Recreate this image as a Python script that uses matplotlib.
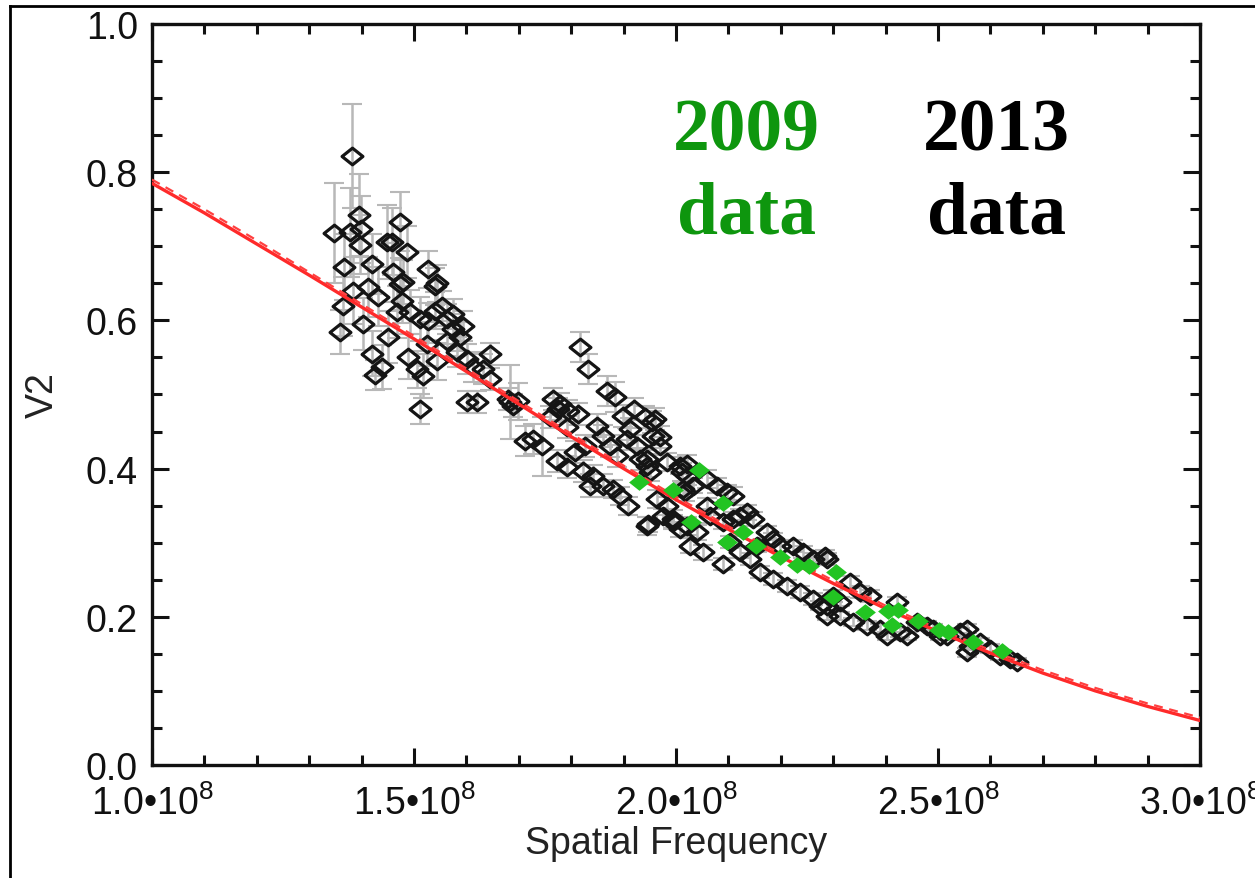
import numpy as np
import matplotlib
matplotlib.use('Agg')
import matplotlib.pyplot as plt
from matplotlib.path import Path
from matplotlib.lines import Line2D
from matplotlib.ticker import MultipleLocator, FuncFormatter

plt.rcParams['font.family'] = ['Liberation Sans', 'DejaVu Sans']
plt.rcParams['mathtext.fontset'] = 'custom'
plt.rcParams['mathtext.rm'] = 'Liberation Sans'
plt.rcParams['mathtext.it'] = 'Liberation Sans'

# 2013 data, spatial frequency in units of 1e8
freq_2013 = [1.382, 1.347, 1.395, 1.378, 1.399, 1.397, 1.366, 1.420, 1.448, 1.458,
             1.473, 1.487, 1.460, 1.479, 1.527, 1.544, 1.359, 1.403, 1.420, 1.439,
             1.426, 1.450, 1.384, 1.412, 1.431, 1.365, 1.467, 1.477, 1.492, 1.473,
             1.540, 1.489, 1.506, 1.517, 1.511, 1.525, 1.544, 1.511, 1.527, 1.540,
             1.553, 1.563, 1.574, 1.588, 1.574, 1.594, 1.563, 1.582, 1.601, 1.613,
             1.632, 1.645, 1.645, 1.601, 1.620, 1.679, 1.689, 1.683, 1.698, 1.817,
             1.832, 1.868, 1.884, 1.712, 1.727, 1.744, 1.765, 1.779, 1.760, 1.775,
             1.794, 1.813, 1.792, 1.773, 1.792, 1.807, 1.826, 1.849, 1.861, 1.823,
             1.842, 1.861, 1.836, 1.874, 1.887, 1.899, 1.912, 1.906, 1.926, 1.931,
             1.945, 1.954, 1.969, 1.880, 1.893, 1.908, 1.945, 1.964, 1.983, 2.008,
             2.021, 1.994, 2.021, 2.017, 1.956, 1.969, 1.945, 1.950, 1.983, 2.011,
             2.021, 2.013, 2.032, 2.059, 2.078, 2.097, 2.109, 1.947, 1.975, 1.994,
             2.008, 2.040, 2.052, 2.027, 2.059, 2.065, 2.090, 2.109, 2.122, 2.135,
             2.147, 2.174, 2.185, 2.198, 2.223, 2.242, 2.261, 2.284, 2.122, 2.141,
             2.160, 2.185, 2.212, 2.237, 2.261, 2.288, 2.300, 2.103, 2.155, 2.090,
             2.288, 2.332, 2.351, 2.370, 2.288, 2.313, 2.338, 2.364, 2.389, 2.403,
             2.422, 2.427, 2.441, 2.460, 2.479, 2.490, 2.504, 2.517, 2.542, 2.555,
             2.561, 2.580, 2.555, 2.599, 2.618, 2.637, 2.651, 2.275, 2.313, 1.920,
             1.940, 1.960]
v2_2013 = [0.822, 0.718, 0.742, 0.719, 0.723, 0.702, 0.672, 0.676, 0.706, 0.706,
           0.733, 0.692, 0.665, 0.652, 0.669, 0.650, 0.584, 0.595, 0.555, 0.537,
           0.526, 0.578, 0.640, 0.645, 0.632, 0.619, 0.611, 0.626, 0.611, 0.649,
           0.646, 0.551, 0.534, 0.525, 0.480, 0.568, 0.545, 0.602, 0.599, 0.613,
           0.619, 0.602, 0.588, 0.578, 0.609, 0.592, 0.572, 0.557, 0.548, 0.537,
           0.534, 0.555, 0.521, 0.490, 0.490, 0.494, 0.485, 0.490, 0.491, 0.564,
           0.534, 0.505, 0.497, 0.437, 0.440, 0.430, 0.494, 0.487, 0.470, 0.480,
           0.478, 0.474, 0.456, 0.410, 0.402, 0.422, 0.430, 0.458, 0.444, 0.397,
           0.390, 0.377, 0.377, 0.430, 0.417, 0.471, 0.453, 0.440, 0.430, 0.413,
           0.404, 0.463, 0.443, 0.372, 0.363, 0.350, 0.323, 0.359, 0.350, 0.404,
           0.390, 0.332, 0.323, 0.368, 0.444, 0.430, 0.413, 0.395, 0.409, 0.395,
           0.406, 0.372, 0.377, 0.386, 0.377, 0.368, 0.363, 0.325, 0.336, 0.328,
           0.318, 0.314, 0.287, 0.296, 0.350, 0.336, 0.328, 0.332, 0.336, 0.341,
           0.332, 0.314, 0.305, 0.296, 0.296, 0.287, 0.278, 0.282, 0.287, 0.278,
           0.260, 0.251, 0.242, 0.233, 0.224, 0.215, 0.228, 0.301, 0.296, 0.271,
           0.278, 0.247, 0.233, 0.228, 0.201, 0.201, 0.193, 0.188, 0.184, 0.174,
           0.220, 0.179, 0.174, 0.193, 0.188, 0.184, 0.174, 0.174, 0.179, 0.184,
           0.161, 0.166, 0.152, 0.157, 0.147, 0.143, 0.139, 0.215, 0.220, 0.480,
           0.470, 0.467]
err_2013 = [0.070, 0.067, 0.055, 0.060, 0.045, 0.040, 0.045, 0.040, 0.050, 0.045,
            0.040, 0.035, 0.040, 0.030, 0.025, 0.025, 0.030, 0.035, 0.030, 0.030,
            0.020, 0.035, 0.045, 0.040, 0.040, 0.040, 0.035, 0.030, 0.030, 0.035,
            0.025, 0.030, 0.025, 0.030, 0.020, 0.030, 0.025, 0.030, 0.025, 0.025,
            0.020, 0.020, 0.020, 0.020, 0.020, 0.020, 0.020, 0.020, 0.020, 0.020,
            0.020, 0.015, 0.015, 0.015, 0.015, 0.015, 0.015, 0.050, 0.025, 0.020,
            0.020, 0.020, 0.020, 0.020, 0.020, 0.040, 0.015, 0.015, 0.015, 0.015,
            0.015, 0.015, 0.015, 0.015, 0.015, 0.015, 0.015, 0.015, 0.015, 0.015,
            0.015, 0.015, 0.015, 0.015, 0.015, 0.015, 0.015, 0.015, 0.015, 0.015,
            0.015, 0.015, 0.015, 0.012, 0.012, 0.012, 0.012, 0.012, 0.012, 0.012,
            0.012, 0.012, 0.012, 0.012, 0.012, 0.012, 0.012, 0.012, 0.012, 0.012,
            0.012, 0.010, 0.010, 0.012, 0.010, 0.010, 0.012, 0.010, 0.010, 0.010,
            0.010, 0.010, 0.010, 0.010, 0.010, 0.010, 0.010, 0.010, 0.010, 0.010,
            0.010, 0.008, 0.008, 0.008, 0.008, 0.008, 0.008, 0.008, 0.008, 0.008,
            0.008, 0.008, 0.008, 0.008, 0.008, 0.008, 0.008, 0.008, 0.008, 0.008,
            0.008, 0.008, 0.008, 0.008, 0.006, 0.006, 0.006, 0.006, 0.006, 0.006,
            0.006, 0.006, 0.006, 0.006, 0.006, 0.006, 0.006, 0.006, 0.006, 0.006,
            0.006, 0.006, 0.006, 0.006, 0.006, 0.006, 0.006, 0.006, 0.006, 0.015,
            0.015, 0.015]

# 2009 data
freq_2009 = [2.044, 1.994, 1.929, 2.090, 2.029, 2.128, 2.097, 2.153, 2.198, 2.231,
             2.254, 2.305, 2.300, 2.361, 2.405, 2.424, 2.412, 2.462, 2.502, 2.519,
             2.567, 2.622]
v2_2009 = [0.398, 0.371, 0.382, 0.354, 0.328, 0.314, 0.301, 0.296, 0.281, 0.270,
           0.269, 0.260, 0.227, 0.206, 0.208, 0.209, 0.189, 0.194, 0.182, 0.179,
           0.166, 0.154]

# model curve
freq_model = [1.0, 1.1, 1.2, 1.3, 1.4, 1.5, 1.6, 1.7, 1.8, 1.9, 2.0,
              2.1, 2.2, 2.3, 2.4, 2.5, 2.6, 2.7, 2.8, 2.9, 3.0]
v2_model = [0.785, 0.745, 0.703, 0.661, 0.618, 0.575, 0.531, 0.487, 0.443, 0.400, 0.358,
            0.318, 0.281, 0.245, 0.211, 0.180, 0.151, 0.124, 0.100, 0.079, 0.060]
v2_model_alt = [0.790, 0.750, 0.708, 0.665, 0.622, 0.579, 0.535, 0.491, 0.447, 0.404, 0.362,
                0.322, 0.285, 0.249, 0.215, 0.184, 0.155, 0.128, 0.104, 0.083, 0.064]

f13 = np.array(freq_2013) * 1e8
f09 = np.array(freq_2009) * 1e8
fm = np.array(freq_model) * 1e8

# squat diamond marker
diamond = Path([(-1, 0), (0, 0.8), (1, 0), (0, -0.8), (-1, 0)],
               [Path.MOVETO, Path.LINETO, Path.LINETO, Path.LINETO, Path.CLOSEPOLY])

fig = plt.figure(figsize=(12.55, 8.79), dpi=100, facecolor='white')
ax = fig.add_axes([0.1211, 0.1286, 0.8351, 0.843])

ax.errorbar(f13, v2_2013, yerr=err_2013, fmt='none', ecolor='#b8b8b8',
            elinewidth=1.8, capsize=7, capthick=1.5, zorder=1)
ax.plot(f13, v2_2013, linestyle='none', marker=diamond, ms=15,
        mfc='none', mec='#151515', mew=2.3, zorder=2)
ax.plot(fm, v2_model, color='#ff2a2a', lw=2.4, zorder=3)
ax.plot(fm, v2_model_alt, color='#ff4040', lw=1.6, ls=(0, (4, 3)), zorder=3)
ax.plot(f09, v2_2009, linestyle='none', marker=diamond, ms=15,
        mfc='#22c422', mec='none', zorder=4)

ax.set_xlim(1e8, 3e8)
ax.set_ylim(0, 1.0)
ax.xaxis.set_major_locator(MultipleLocator(0.5e8))
ax.xaxis.set_minor_locator(MultipleLocator(0.1e8))
ax.yaxis.set_major_locator(MultipleLocator(0.2))
ax.yaxis.set_minor_locator(MultipleLocator(0.05))
ax.xaxis.set_major_formatter(FuncFormatter(lambda v, p: '%.1f\u202210$^{8}$' % (v / 1e8)))
ax.yaxis.set_major_formatter(FuncFormatter(lambda v, p: '%.1f' % v))

ax.tick_params(which='both', direction='in', top=True, right=True, width=2.2,
               colors='#111111', labelsize=27)
ax.tick_params(which='major', length=12)
ax.tick_params(which='minor', length=7)
ax.tick_params(axis='x', pad=14)
ax.tick_params(axis='y', pad=10)
for s in ax.spines.values():
    s.set_linewidth(2.4)
    s.set_color('#111111')

ax.set_xlabel('Spatial Frequency', fontsize=27, color='#222222', labelpad=2)
ax.set_ylabel('V2', fontsize=27, color='#222222', labelpad=18)

fig.canvas.draw()
ylabels = ax.get_yticklabels()
ylabels[0].set_va('center_baseline')
ylabels[0].set_y(0.012)
ylabels[-1].set_va('top')

ax.text(2.134e8, 0.831, '2009', color='#0e960e', fontsize=53, fontweight='bold',
        family='Liberation Serif', ha='center', va='baseline')
ax.text(2.134e8, 0.719, 'data', color='#0e960e', fontsize=53, fontweight='bold',
        family='Liberation Serif', ha='center', va='baseline')
ax.text(2.611e8, 0.831, '2013', color='black', fontsize=53, fontweight='bold',
        family='Liberation Serif', ha='center', va='baseline')
ax.text(2.611e8, 0.719, 'data', color='black', fontsize=53, fontweight='bold',
        family='Liberation Serif', ha='center', va='baseline')

# outer frame, left and top edges
fx = 10 / 1255
fy = 1 - 7 / 879
fig.add_artist(Line2D([fx, fx], [0, fy], color='black', lw=2.0))
fig.add_artist(Line2D([fx, 1], [fy, fy], color='black', lw=2.0))

fig.savefig('out.png', dpi=100, facecolor='white')
